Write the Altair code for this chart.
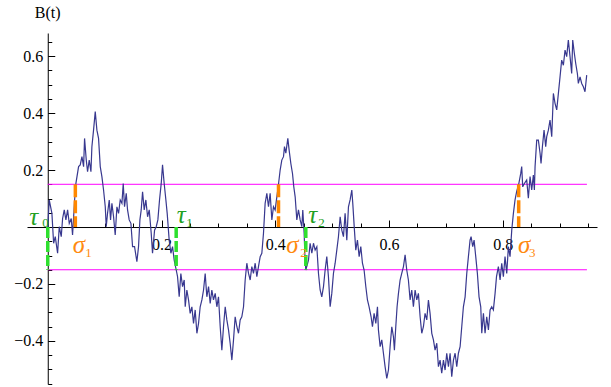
import altair as alt
import pandas as pd

# ---- sampled path B(t), split into consecutive stretches ----
T1 = [0.0, 0.0026, 0.0073, 0.0103, 0.0132, 0.0173, 0.0202, 0.0237, 0.0261, 0.029,
      0.0319, 0.0349, 0.0378, 0.0413, 0.0436, 0.0472, 0.0495, 0.0542, 0.0571, 0.0601,
      0.063, 0.0647, 0.0677, 0.07, 0.0729, 0.0759, 0.0776, 0.0805, 0.0835, 0.0864,
      0.0893, 0.0923, 0.0952, 0.0981, 0.1011, 0.1028, 0.1051, 0.1081, 0.1104, 0.1128,
      0.1157, 0.1186, 0.1216, 0.1245, 0.1274, 0.1304, 0.1327, 0.135, 0.138, 0.1403,
      0.1432, 0.1462, 0.1491, 0.1526, 0.1567, 0.1596, 0.162, 0.1643, 0.1667, 0.1696,
      0.1725, 0.1755, 0.1784, 0.1819, 0.1842, 0.1878, 0.1907, 0.1936, 0.1965]
B1 = [0.0, 0.095, 0.048, -0.057, -0.034, -0.092, 0.001, -0.034, 0.030, 0.060,
      0.025, 0.060, 0.013, 0.030, -0.028, 0.095, 0.153, 0.212, 0.218, 0.247,
      0.212, 0.311, 0.235, 0.194, 0.235, 0.194, 0.282, 0.340, 0.405, 0.340,
      0.311, 0.212, 0.177, 0.130, 0.071, 0.001, 0.048, 0.095, 0.025, 0.083,
      0.036, -0.028, 0.071, 0.048, 0.095, 0.083, 0.153, 0.071, 0.118, 0.060,
      0.025, 0.013, -0.069, -0.069, -0.122, -0.069, 0.025, 0.060, 0.124, 0.060,
      0.095, 0.036, 0.060, -0.022, -0.092, -0.011, 0.001, 0.025, 0.095]

T2 = [0.1995, 0.2018, 0.2047, 0.2077, 0.21, 0.2135, 0.2165, 0.2194, 0.2223, 0.2258,
      0.2282, 0.2311, 0.234, 0.237, 0.2399, 0.2417, 0.2446, 0.2475, 0.2504, 0.2534,
      0.2563, 0.2592, 0.2622, 0.2651, 0.268, 0.271, 0.2739, 0.2768, 0.2797, 0.2827,
      0.2856, 0.2885, 0.2914, 0.2944, 0.2973, 0.3002, 0.3032, 0.3061, 0.309, 0.312,
      0.3149, 0.3178, 0.3207, 0.3237, 0.3266, 0.3295, 0.3325, 0.3354, 0.3383, 0.3412,
      0.3442, 0.3471, 0.35, 0.353, 0.3559, 0.3588, 0.3617, 0.3647, 0.3676, 0.3705,
      0.3735, 0.3764, 0.3793, 0.3822, 0.3852, 0.3881, 0.391]
B2 = [0.153, 0.218, 0.153, 0.095, 0.048, -0.046, -0.092, -0.069, -0.116, -0.150,
      -0.174, -0.245, -0.163, -0.209, -0.186, -0.280, -0.221, -0.256, -0.303, -0.280,
      -0.338, -0.291, -0.373, -0.338, -0.280, -0.256, -0.221, -0.163, -0.245, -0.209,
      -0.268, -0.221, -0.256, -0.233, -0.280, -0.245, -0.350, -0.432, -0.350, -0.280,
      -0.326, -0.361, -0.408, -0.467, -0.396, -0.315, -0.350, -0.373, -0.326, -0.315,
      -0.280, -0.186, -0.127, -0.163, -0.186, -0.139, -0.163, -0.127, -0.174, -0.139,
      -0.104, -0.092, -0.022, 0.083, 0.118, 0.071, 0.118]

T3 = [0.394, 0.3969, 0.3998, 0.4028, 0.4057, 0.4086, 0.4115, 0.4145, 0.4162, 0.4186,
      0.4221, 0.4244, 0.4274, 0.4303, 0.4326, 0.435, 0.4379, 0.4408, 0.4438, 0.4467,
      0.4484, 0.4508, 0.4522, 0.4537, 0.4584, 0.4613, 0.4643, 0.4672, 0.4701, 0.4731,
      0.476, 0.4789, 0.4818, 0.4848, 0.4877, 0.4906, 0.4935, 0.4965, 0.4994, 0.5023,
      0.5053, 0.5082, 0.5111, 0.5141, 0.517, 0.5199, 0.5228, 0.5258, 0.5287, 0.5316,
      0.5346, 0.5363, 0.5392, 0.5416, 0.5445, 0.5475, 0.5504, 0.5533, 0.5562, 0.5592,
      0.5621, 0.565, 0.5685, 0.5709, 0.5738, 0.5768, 0.5797, 0.5814]
B3 = [0.025, 0.071, 0.060, 0.106, 0.150, 0.200, 0.235, 0.247, 0.282, 0.259,
      0.311, 0.270, 0.223, 0.188, 0.141, 0.106, 0.025, 0.060, 0.025, 0.001,
      0.060, -0.022, -0.104, -0.151, -0.116, -0.057, -0.092, -0.057, -0.081, -0.069,
      -0.163, -0.221, -0.245, -0.209, -0.151, -0.104, -0.174, -0.280, -0.233, -0.163,
      -0.127, -0.081, -0.034, 0.036, -0.011, -0.034, 0.048, -0.046, 0.071, 0.095,
      0.130, 0.083, -0.011, -0.081, -0.046, -0.104, -0.069, -0.127, -0.151, -0.209,
      -0.256, -0.280, -0.315, -0.350, -0.303, -0.338, -0.280, -0.361]

T4 = [0.5844, 0.5873, 0.5902, 0.5931, 0.5961, 0.599, 0.6019, 0.6049, 0.6078, 0.6095,
      0.6119, 0.6142, 0.6166, 0.6195, 0.6224, 0.6254, 0.6283, 0.6312, 0.6341, 0.6371,
      0.64, 0.6429, 0.6459, 0.6488, 0.6517, 0.6547, 0.6576, 0.6605, 0.6634, 0.6664,
      0.6693, 0.6722, 0.6752, 0.6781, 0.681, 0.684, 0.6869, 0.6898, 0.6927, 0.6957,
      0.6986, 0.7015, 0.7045, 0.7074, 0.7103, 0.7133, 0.7162, 0.7191, 0.722, 0.725,
      0.7279, 0.7308, 0.7338, 0.7367, 0.7396, 0.7425, 0.7443, 0.7472, 0.7496, 0.7525,
      0.7554, 0.7583, 0.7613, 0.7631, 0.766, 0.7689, 0.7718, 0.7748, 0.7777, 0.7806,
      0.7835, 0.7865]
B4 = [-0.420, -0.396, -0.443, -0.490, -0.531, -0.502, -0.420, -0.350, -0.385, -0.432,
      -0.350, -0.280, -0.233, -0.186, -0.163, -0.139, -0.098, -0.151, -0.186, -0.256,
      -0.221, -0.280, -0.221, -0.256, -0.233, -0.315, -0.373, -0.350, -0.303, -0.326,
      -0.256, -0.303, -0.373, -0.396, -0.432, -0.408, -0.490, -0.467, -0.513, -0.467,
      -0.502, -0.443, -0.490, -0.443, -0.525, -0.467, -0.443, -0.490, -0.443, -0.420,
      -0.350, -0.280, -0.245, -0.163, -0.104, -0.046, -0.034, -0.069, -0.046, -0.104,
      -0.163, -0.245, -0.280, -0.373, -0.303, -0.373, -0.315, -0.361, -0.291, -0.280,
      -0.291, -0.233]

T5 = [0.789, 0.7923, 0.7953, 0.7982, 0.8011, 0.804, 0.807, 0.8099, 0.8128, 0.8158,
      0.8187, 0.8216, 0.8245]
B5 = [-0.174, -0.139, -0.186, -0.127, -0.174, -0.104, -0.163, -0.069, -0.104, -0.011,
      0.048, 0.095, 0.125]

T6 = [0.828, 0.8316, 0.8333, 0.8351, 0.838, 0.8421, 0.845, 0.848, 0.8509, 0.8538,
      0.8556, 0.8568, 0.8597, 0.8626, 0.8656, 0.8673, 0.8697, 0.8726, 0.8755, 0.8773,
      0.8802, 0.8831, 0.8861, 0.889, 0.8919, 0.8949, 0.8978, 0.9007, 0.9036, 0.9066,
      0.9095, 0.9124, 0.9153, 0.9183, 0.9212, 0.923, 0.9259, 0.9283, 0.9312, 0.9329,
      0.9359, 0.9388, 0.9417, 0.9446, 0.9476]
B6 = [0.150, 0.188, 0.212, 0.141, 0.153, 0.165, 0.101, 0.177, 0.130, 0.182,
      0.130, 0.212, 0.305, 0.305, 0.259, 0.223, 0.282, 0.340, 0.282, 0.317,
      0.340, 0.375, 0.317, 0.469, 0.434, 0.411, 0.469, 0.527, 0.586, 0.568,
      0.621, 0.598, 0.656, 0.598, 0.539, 0.656, 0.609, 0.574, 0.539, 0.504,
      0.527, 0.504, 0.492, 0.475, 0.533]

# ---- barrier levels and stopping times ----
BAND = 0.15
BAND_END = 0.948
TAU = [0.0, 0.2258, 0.4537]
SIGMA = [0.0485, 0.4057, 0.828]

# ---- annotation text ----
LETTER = ["τ", "τ", "τ", "σ", "σ", "σ"]
LETTER_T = [-0.0325, 0.2267, 0.4578, 0.0439, 0.4192, 0.8269]
LETTER_B = [0.007, 0.014, 0.014, -0.0895, -0.0895, -0.0895]
SUB = ["0", "1", "2", "1", "2", "3"]
SUB_T = [-0.0097, 0.2434, 0.4754, 0.0659, 0.4438, 0.8462]
SUB_B = [0.0, 0.0, 0.0, -0.105, -0.105, -0.105]
GREEN_TXT, ORANGE_TXT = "#22a022", "#ff8a10"
LABEL_COLOR = [GREEN_TXT] * 3 + [ORANGE_TXT] * 3

MAJOR_X = [0.2, 0.4, 0.6, 0.8]
MINOR_X = [0.05, 0.1, 0.15, 0.25, 0.3, 0.35, 0.45, 0.5, 0.55, 0.65, 0.7, 0.75,
           0.85, 0.9, 0.95]
MAJOR_Y = [-0.4, -0.2, 0.2, 0.4, 0.6]
MINOR_Y = [-0.55, -0.5, -0.45, -0.35, -0.3, -0.25, -0.15, -0.1, -0.05, 0.05, 0.1,
           0.15, 0.25, 0.3, 0.35, 0.45, 0.5, 0.55, 0.65]

path_t = T1 + T2 + T3 + T4 + T5 + T6
path_b = B1 + B2 + B3 + B4 + B5 + B6
assert len(path_t) == len(path_b)

path_df = pd.DataFrame({"t": path_t, "b": path_b})
band_df = pd.DataFrame({"x0": [0.0, 0.0], "x1": [BAND_END, BAND_END], "lvl": [BAND, -BAND]})
tau_df = pd.DataFrame({"t": TAU, "top": [0.0] * len(TAU), "bot": [-BAND] * len(TAU)})
sigma_df = pd.DataFrame({"t": SIGMA, "top": [BAND] * len(SIGMA), "bot": [0.0] * len(SIGMA)})
letter_df = pd.DataFrame({"t": LETTER_T, "b": LETTER_B, "s": LETTER, "c": LABEL_COLOR})
sub_df = pd.DataFrame({"t": SUB_T, "b": SUB_B, "s": SUB, "c": LABEL_COLOR})
title_df = pd.DataFrame({"t": [0.0], "b": [0.733], "s": ["B(t)"]})

# ---- frame ----
X_DOMAIN = [-0.0365, 0.9657]
Y_DOMAIN = [-0.551, 0.681]
W, H = 570, 351
x0_px = W * (0 - X_DOMAIN[0]) / (X_DOMAIN[1] - X_DOMAIN[0])
y0_px = H * (Y_DOMAIN[1] - 0) / (Y_DOMAIN[1] - Y_DOMAIN[0])

SERIF = "Liberation Serif"
NAVY = "#38388f"

xs = alt.Scale(domain=X_DOMAIN, nice=False, zero=False)
ys = alt.Scale(domain=Y_DOMAIN, nice=False, zero=False)

# axes crossing at the origin: labels/domain lines, plus inward-pointing ticks
x_lab = alt.Axis(orient="bottom", offset=-(H - y0_px), values=MAJOR_X, format=".1f",
                 ticks=False, tickSize=0, grid=False, domain=True, domainColor="black",
                 domainWidth=1, labelFont=SERIF, labelFontSize=16, labelColor="black",
                 labelPadding=9, title=None)
y_lab = alt.Axis(orient="left", offset=-x0_px, values=MAJOR_Y, format=".1f",
                 ticks=False, tickSize=0, grid=False, domain=True, domainColor="black",
                 domainWidth=1, labelFont=SERIF, labelFontSize=16, labelColor="black",
                 labelPadding=5, title=None)
x_major = alt.Axis(orient="top", offset=-y0_px, values=MAJOR_X, ticks=True, tickSize=7,
                   tickColor="black", tickWidth=1, labels=False, domain=False, grid=False,
                   title=None)
y_major = alt.Axis(orient="right", offset=-(W - x0_px), values=MAJOR_Y, ticks=True,
                   tickSize=7, tickColor="black", tickWidth=1, labels=False, domain=False,
                   grid=False, title=None)
x_minor = alt.Axis(orient="top", offset=-y0_px, values=MINOR_X, ticks=True, tickSize=4,
                   tickColor="black", tickWidth=1, labels=False, domain=False, grid=False,
                   title=None)
y_minor = alt.Axis(orient="right", offset=-(W - x0_px), values=MINOR_Y, ticks=True,
                   tickSize=4, tickColor="black", tickWidth=1, labels=False, domain=False,
                   grid=False, title=None)

bands = alt.Chart(band_df).mark_rule(color="#ff00ff", strokeWidth=1).encode(
    x=alt.X("x0:Q", scale=xs, axis=x_major),
    x2="x1:Q",
    y=alt.Y("lvl:Q", scale=ys, axis=y_major),
)

path = alt.Chart(path_df).mark_line(color=NAVY, strokeWidth=1.2).encode(
    x=alt.X("t:Q", scale=xs, axis=x_lab),
    y=alt.Y("b:Q", scale=ys, axis=y_lab),
)

taus = alt.Chart(tau_df).mark_rule(color="#2ee02e", strokeWidth=3.5, strokeDash=[11, 3]).encode(
    x=alt.X("t:Q", scale=xs, axis=x_minor),
    y=alt.Y("top:Q", scale=ys, axis=y_minor),
    y2="bot:Q",
)

sigmas = alt.Chart(sigma_df).mark_rule(color="#ff8800", strokeWidth=3.5, strokeDash=[13, 3]).encode(
    x=alt.X("t:Q", scale=xs, axis=None),
    y=alt.Y("top:Q", scale=ys, axis=None),
    y2="bot:Q",
)

letters = alt.Chart(letter_df).mark_text(
    font=SERIF, fontSize=25, fontStyle="italic", align="left", baseline="alphabetic"
).encode(
    x=alt.X("t:Q", scale=xs, axis=None),
    y=alt.Y("b:Q", scale=ys, axis=None),
    text="s:N",
    color=alt.Color("c:N", scale=None),
)

subs = alt.Chart(sub_df).mark_text(
    font=SERIF, fontSize=13, align="left", baseline="alphabetic"
).encode(
    x=alt.X("t:Q", scale=xs, axis=None),
    y=alt.Y("b:Q", scale=ys, axis=None),
    text="s:N",
    color=alt.Color("c:N", scale=None),
)

title = alt.Chart(title_df).mark_text(
    font=SERIF, fontSize=16, align="center", baseline="alphabetic", color="black"
).encode(
    x=alt.X("t:Q", scale=xs, axis=None),
    y=alt.Y("b:Q", scale=ys, axis=None),
    text="s:N",
)

chart = (
    alt.layer(bands, path, taus, sigmas, letters, subs, title)
    .resolve_axis(x="independent", y="independent")
    .properties(
        width=W,
        height=H,
        autosize=alt.AutoSizeParams(type="none"),
        padding={"left": 27, "top": 33, "right": 14, "bottom": 3},
        background="white",
    )
    .configure_view(strokeWidth=0)
)

chart.save("out.html", embed_options={"renderer": "svg", "actions": False})
